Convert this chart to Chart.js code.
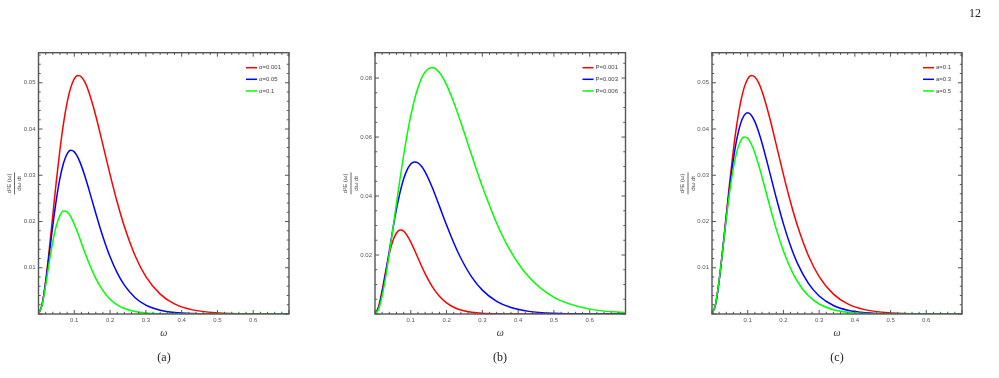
<!DOCTYPE html>
<html>
<head>
<meta charset="utf-8">
<script src="https://cdn.jsdelivr.net/npm/chart.js@4.4.0/dist/chart.umd.min.js"></script>
<style>
    body { margin: 0; background: #fff; width: 999px; height: 378px; position: relative; overflow: hidden; }
    canvas { position: absolute; top: 0; }
    .cap { position: absolute; font-family: 'Liberation Serif', 'DejaVu Serif', serif; font-size: 12px; color: #222; transform: translateX(-50%); }
</style>
</head>
<body>
<canvas id="panelA" width="333" height="378" style="left:0px"></canvas>
<canvas id="panelB" width="333" height="378" style="left:333px"></canvas>
<canvas id="panelC" width="333" height="378" style="left:666px"></canvas>
<div class="cap" style="left:164px; top:350px">(a)</div>
<div class="cap" style="left:500px; top:350px">(b)</div>
<div class="cap" style="left:837px; top:350px">(c)</div>
<div class="cap" style="left:975px; top:6px">12</div>
<script>
// omega grid shared by every curve
const omega = [0, 0.01, 0.02, 0.03, 0.04, 0.05, 0.06, 0.07, 0.08, 0.09, 0.10, 0.11, 0.12, 0.13, 0.14,
    0.16, 0.18, 0.20, 0.22, 0.24, 0.27, 0.30, 0.34, 0.38, 0.43, 0.50, 0.60, 0.70];

// (a) varying alpha
const labelsA = ['α=0.001', 'α=0.05', 'α=0.1'];
const aAlpha0001 = [0, 0.00203, 0.00712, 0.01393, 0.02143, 0.02883, 0.03557, 0.04128, 0.04577, 0.04895, 0.05086, 0.05158, 0.05126, 0.05007, 0.04816,
    0.04288, 0.03658, 0.03015, 0.02416, 0.01890, 0.01259, 0.00809, 0.00429, 0.00218, 0.00089, 0.00024, 0.00003, 0];
const aAlpha005 = [0, 0.00201, 0.00683, 0.01291, 0.01916, 0.02480, 0.02937, 0.03266, 0.03464, 0.03539, 0.03506, 0.03387, 0.03203, 0.02974, 0.02717,
    0.02179, 0.01671, 0.01236, 0.00888, 0.00623, 0.00352, 0.00192, 0.00082, 0.00033, 0.00010, 0.00002, 0, 0];
const aAlpha01 = [0, 0.00192, 0.00620, 0.01116, 0.01568, 0.01915, 0.02133, 0.02225, 0.02207, 0.02103, 0.01941, 0.01744, 0.01532, 0.01320, 0.01118,
    0.00769, 0.00506, 0.00320, 0.00197, 0.00118, 0.00053, 0.00023, 0.00007, 0.00002, 0, 0, 0, 0];

// (b) varying P
const labelsB = ['P=0.001', 'P=0.003', 'P=0.006'];
const bP0001 = [0, 0.00253, 0.00815, 0.01459, 0.02041, 0.02480, 0.02747, 0.02848, 0.02808, 0.02659, 0.02439, 0.02177, 0.01900, 0.01626, 0.01368,
    0.00929, 0.00602, 0.00376, 0.00228, 0.00135, 0.00059, 0.00025, 0.00008, 0.00002, 0, 0, 0, 0];
const bP0003 = [0, 0.00203, 0.00712, 0.01393, 0.02143, 0.02883, 0.03557, 0.04128, 0.04577, 0.04895, 0.05086, 0.05158, 0.05126, 0.05007, 0.04816,
    0.04288, 0.03658, 0.03015, 0.02416, 0.01890, 0.01259, 0.00809, 0.00429, 0.00218, 0.00089, 0.00024, 0.00003, 0];
const bP0006 = [0, 0.00170, 0.00620, 0.01268, 0.02044, 0.02888, 0.03750, 0.04592, 0.05383, 0.06100, 0.06726, 0.07254, 0.07675, 0.07994, 0.08209,
    0.08360, 0.08188, 0.07769, 0.07181, 0.06492, 0.05388, 0.04320, 0.03079, 0.02107, 0.01252, 0.00567, 0.00165, 0.00044];

// (c) varying a
const labelsC = ['a=0.1', 'a=0.3', 'a=0.5'];
const cA01 = [0, 0.00203, 0.00712, 0.01393, 0.02143, 0.02883, 0.03557, 0.04128, 0.04577, 0.04895, 0.05086, 0.05158, 0.05126, 0.05007, 0.04816,
    0.04288, 0.03658, 0.03015, 0.02416, 0.01890, 0.01259, 0.00809, 0.00429, 0.00218, 0.00089, 0.00024, 0.00003, 0];
const cA03 = [0, 0.00211, 0.00727, 0.01397, 0.02107, 0.02777, 0.03351, 0.03802, 0.04116, 0.04295, 0.04350, 0.04299, 0.04159, 0.03953, 0.03698,
    0.03112, 0.02507, 0.01949, 0.01472, 0.01085, 0.00661, 0.00389, 0.00183, 0.00082, 0.00029, 0.00006, 0.00001, 0];
const cA05 = [0, 0.00215, 0.00731, 0.01385, 0.02057, 0.02666, 0.03162, 0.03522, 0.03740, 0.03827, 0.03799, 0.03676, 0.03482, 0.03238, 0.02965,
    0.02385, 0.01835, 0.01364, 0.00984, 0.00692, 0.00393, 0.00216, 0.00092, 0.00038, 0.00012, 0.00002, 0, 0];

const lineColors = ['rgb(255, 0, 0)', 'rgb(0, 0, 255)', 'rgb(0, 255, 0)'];

// frame, inward ticks, legend and axis labels (Mathematica style)
const framePlugin = {
    id: 'frame',
    afterDatasetsDraw(chart, args, opts) {
        const { ctx, chartArea: a, scales: { x, y } } = chart;
        ctx.save();

        ctx.strokeStyle = '#555';
        ctx.lineWidth = 1.4;
        ctx.strokeRect(a.left, a.top, a.right - a.left, a.bottom - a.top);

        // tick marks on all four sides
        ctx.lineWidth = 1;
        ctx.beginPath();
        for (let k = 0; k <= 35; k++) {
            const px = x.getPixelForValue(k * 0.02);
            const len = k % 5 === 0 ? 4 : 2.2;
            ctx.moveTo(px, a.bottom); ctx.lineTo(px, a.bottom - len);
            ctx.moveTo(px, a.top); ctx.lineTo(px, a.top + len);
        }
        const ratio = Math.round(opts.yMajor / opts.yMinor);
        const n = Math.floor(y.max / opts.yMinor + 1e-9);
        for (let k = 0; k <= n; k++) {
            const py = y.getPixelForValue(k * opts.yMinor);
            const len = k % ratio === 0 ? 4 : 2.2;
            ctx.moveTo(a.left, py); ctx.lineTo(a.left + len, py);
            ctx.moveTo(a.right, py); ctx.lineTo(a.right - len, py);
        }
        ctx.stroke();

        // legend
        ctx.font = '6px "Liberation Sans", Arial, sans-serif';
        ctx.textBaseline = 'middle';
        ctx.textAlign = 'left';
        chart.data.datasets.forEach((ds, i) => {
            const ly = a.top + 15 + i * 11.6;
            const lx = a.right - opts.legendInset;
            ctx.strokeStyle = ds.borderColor;
            ctx.lineWidth = 1.5;
            ctx.beginPath();
            ctx.moveTo(lx, ly); ctx.lineTo(lx + 11, ly);
            ctx.stroke();
            ctx.fillStyle = '#444';
            ctx.fillText(ds.label, lx + 13, ly);
        });

        // x axis title
        ctx.fillStyle = '#333';
        ctx.textAlign = 'center';
        ctx.font = 'italic 10px "Liberation Serif", "DejaVu Serif", serif';
        ctx.fillText('ω', (a.left + a.right) / 2, a.bottom + 19);

        // y axis title: rotated fraction
        ctx.translate(a.left - 24, (a.top + a.bottom) / 2);
        ctx.rotate(-Math.PI / 2);
        ctx.font = '6px "Liberation Sans", Arial, sans-serif';
        ctx.fillStyle = '#444';
        ctx.fillText('d²E (ω)', 0, -5.5);
        ctx.fillText('dω dt', 0, 5);
        ctx.strokeStyle = '#444';
        ctx.lineWidth = 0.8;
        ctx.beginPath();
        ctx.moveTo(-11, 0); ctx.lineTo(11, 0);
        ctx.stroke();

        ctx.restore();
    }
};

function buildPanel(id, series, labels, yMax, yMajor, yMinor, leftW, padRight, legendInset) {
    return new Chart(document.getElementById(id), {
        type: 'line',
        data: {
            datasets: series.map((vals, i) => ({
                label: labels[i],
                data: omega.map((w, j) => ({ x: w, y: vals[j] })),
                borderColor: lineColors[i],
                borderWidth: 1.5,
                pointRadius: 0,
                fill: false,
                cubicInterpolationMode: 'monotone',
                order: 3 - i
            }))
        },
        options: {
            responsive: false,
            animation: false,
            events: [],
            layout: { padding: { top: 52.7, right: padRight, left: 0, bottom: 0 } },
            plugins: {
                legend: { display: false },
                tooltip: { enabled: false },
                frame: { yMajor: yMajor, yMinor: yMinor, legendInset: legendInset }
            },
            scales: {
                x: {
                    type: 'linear',
                    min: 0,
                    max: 0.7,
                    afterFit(scale) { scale.height = 64; },
                    grid: { display: false, drawTicks: false, tickLength: 0 },
                    border: { display: false },
                    ticks: {
                        stepSize: 0.1,
                        autoSkip: false,
                        maxRotation: 0,
                        padding: 3,
                        color: '#555',
                        font: { family: '"Liberation Sans", Arial, sans-serif', size: 6 },
                        callback: v => (v > 0.001 && v < 0.699) ? v.toFixed(1) : ''
                    }
                },
                y: {
                    type: 'linear',
                    min: 0,
                    max: yMax,
                    afterFit(scale) { scale.width = leftW; },
                    grid: { display: false, drawTicks: false, tickLength: 0 },
                    border: { display: false },
                    ticks: {
                        stepSize: yMajor,
                        autoSkip: false,
                        padding: 3,
                        color: '#555',
                        font: { family: '"Liberation Sans", Arial, sans-serif', size: 6 },
                        callback: v => {
                            const r = v / yMajor;
                            return (v > 1e-9 && Math.abs(r - Math.round(r)) < 1e-6) ? v.toFixed(2) : '';
                        }
                    }
                }
            }
        },
        plugins: [framePlugin]
    });
}

buildPanel('panelA', [aAlpha0001, aAlpha005, aAlpha01], labelsA, 0.0565, 0.01, 0.002, 38.5, 44, 43);
buildPanel('panelB', [bP0001, bP0003, bP0006], labelsB, 0.0886, 0.02, 0.005, 42, 40.5, 43);
buildPanel('panelC', [cA01, cA03, cA05], labelsC, 0.0565, 0.01, 0.002, 46, 37, 39);
</script>
</body>
</html>
